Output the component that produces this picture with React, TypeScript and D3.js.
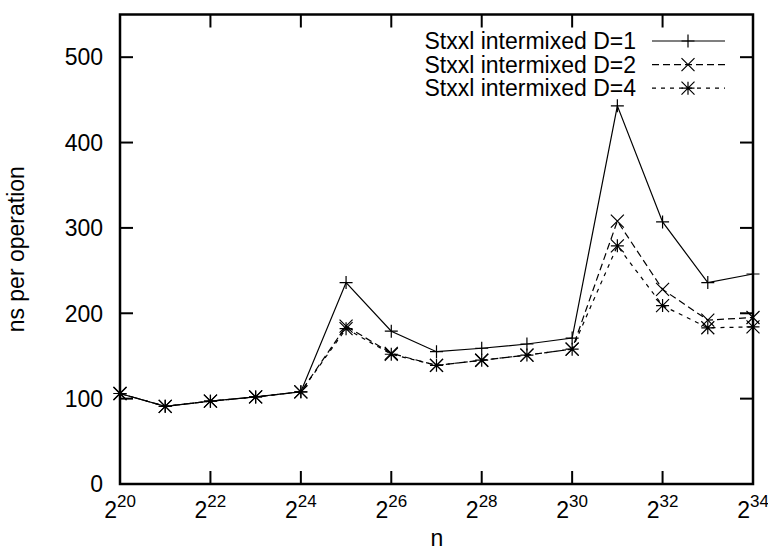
import React from "react";
import * as d3 from "d3";

const exponents = [20, 21, 22, 23, 24, 25, 26, 27, 28, 29, 30, 31, 32, 33, 34];
const d1 = [106, 91, 97, 102, 108, 236, 179, 155, 159, 164, 171, 443, 307, 236, 246];
const d2 = [106, 91, 97, 102, 108, 185, 153, 139, 145, 151, 158, 308, 228, 192, 195];
const d4 = [106, 91, 97, 102, 108, 182, 152, 139, 145, 151, 158, 279, 209, 183, 184];
const yTicks = [0, 100, 200, 300, 400, 500];
const xTicks = [20, 22, 24, 26, 28, 30, 32, 34];
const seriesNames = ["Stxxl intermixed D=1", "Stxxl intermixed D=2", "Stxxl intermixed D=4"];

const W = 768, H = 552;
const L = 120, R = 753, T = 14.5, B = 484;
const FONT = "'Liberation Sans', Arial, Helvetica, sans-serif";
const FS = 23;

function Marker({ kind, x, y }: { kind: number; x: number; y: number }) {
  const s = 6.5;
  const plus = `M${x - s},${y}H${x + s}M${x},${y - s}V${y + s}`;
  const cross = `M${x - s},${y - s}L${x + s},${y + s}M${x - s},${y + s}L${x + s},${y - s}`;
  const d = kind === 0 ? plus : kind === 1 ? cross : plus + cross;
  return <path d={d} stroke="#000" strokeWidth={1.2} fill="none" />;
}

export default function App() {
  const x = d3.scaleLinear().domain([20, 34]).range([L, R]);
  const y = d3.scaleLinear().domain([0, 550]).range([B, T]);
  const series = [d1, d2, d4];
  const dashes = [undefined, "7,4", "4,5"];
  const line = d3.line<number>().x((_, i) => x(exponents[i])).y((v) => y(v));
  const tickLen = 13;
  return (
    <svg width={W} height={H} style={{ position: "absolute", left: 0, top: 0, background: "#fff" }} fontFamily={FONT}>
      <rect x={0} y={0} width={W} height={H} fill="#fff" />
      {yTicks.map((t) => (
        <g key={"y" + t}>
          <line x1={L} x2={L + tickLen} y1={y(t)} y2={y(t)} stroke="#000" strokeWidth={2} />
          <line x1={R} x2={R - tickLen} y1={y(t)} y2={y(t)} stroke="#000" strokeWidth={2} />
          <text x={L - 17} y={y(t)} dy="0.36em" textAnchor="end" fontSize={FS}>{t}</text>
        </g>
      ))}
      {xTicks.map((t) => (
        <g key={"x" + t}>
          <line x1={x(t)} x2={x(t)} y1={B} y2={B - tickLen} stroke="#000" strokeWidth={2} />
          <line x1={x(t)} x2={x(t)} y1={T} y2={T + tickLen} stroke="#000" strokeWidth={2} />
          <text x={x(t)} y={518} textAnchor="middle" fontSize={FS}>
            2<tspan dy={-11} fontSize={17}>{t}</tspan>
          </text>
        </g>
      ))}
      {series.map((vals, si) => (
        <g key={"s" + si}>
          <path d={line(vals) || ""} fill="none" stroke="#000" strokeWidth={1.2} strokeDasharray={dashes[si]} />
          {vals.map((v, i) => (
            <Marker key={i} kind={si} x={x(exponents[i])} y={y(v)} />
          ))}
        </g>
      ))}
      {seriesNames.map((name, si) => {
        const ly = 41 + si * 23.6;
        return (
          <g key={"l" + si}>
            <text x={636} y={ly} dy="0.36em" textAnchor="end" fontSize={FS}>{name}</text>
            <line x1={652} x2={725} y1={ly} y2={ly} stroke="#000" strokeWidth={1.2} strokeDasharray={dashes[si]} />
            <Marker kind={si} x={688} y={ly} />
          </g>
        );
      })}
      <rect x={L} y={T} width={R - L} height={B - T} fill="none" stroke="#000" strokeWidth={2.5} />
      <text x={437} y={546} textAnchor="middle" fontSize={FS}>n</text>
      <text transform={`translate(24,${(T + B) / 2}) rotate(-90)`} textAnchor="middle" fontSize={FS}>ns per operation</text>
    </svg>
  );
}
